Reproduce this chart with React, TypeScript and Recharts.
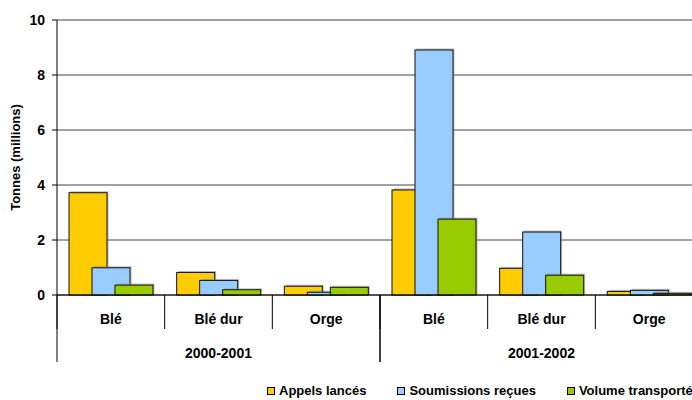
import React from 'react';
import { BarChart, Bar, XAxis, YAxis, CartesianGrid, Legend, Label } from 'recharts';

const crops = ['Blé', 'Blé dur', 'Orge', 'Blé', 'Blé dur', 'Orge'];
const years = ['2000-2001', '2000-2001', '2000-2001', '2001-2002', '2001-2002', '2001-2002'];
const appels = [3.72, 0.82, 0.32, 3.82, 0.97, 0.13];
const soumissions = [0.99, 0.53, 0.1, 8.91, 2.29, 0.17];
const volume = [0.36, 0.19, 0.28, 2.76, 0.72, 0.06];
const yTicks = [0, 2, 4, 6, 8, 10];

const seriesNames = ['Appels lancés', 'Soumissions reçues', 'Volume transporté'];
const colors = ['#FFCC00', '#99CCFF', '#99CC00'];

const data = crops.map((c, i) => ({
  key: `${years[i]}-${c}`,
  crop: c,
  year: years[i],
  appels: appels[i],
  soumissions: soumissions[i],
  volume: volume[i],
}));

const CHART_W = 720;
const CHART_H = 400;
const Y_W = 57;
const RIGHT = 17;
const PLOT_W = CHART_W - Y_W - RIGHT;
const BW = PLOT_W / crops.length;
const FONT = '"Liberation Sans", Arial, sans-serif';

const ShadowBar = (props: any) => {
  const { x, y, width, height, fill } = props;
  if (height == null || height <= 0) return null;
  return (
    <g>
      <rect x={x + 1.5} y={y - 1.5} width={width} height={height + 1.5} fill="#888" opacity={0.55} />
      <rect x={x} y={y} width={width} height={height} fill={fill} stroke="#111" strokeWidth={1} />
    </g>
  );
};

const CropTick = (props: any) => {
  const { x, y, payload } = props;
  const left = x - BW / 2;
  return (
    <g>
      <line x1={left} y1={y} x2={left} y2={y + 34} stroke="#000" strokeWidth={1} />
      <text x={x} y={y + 29} textAnchor="middle" fontFamily={FONT} fontWeight="bold" fontSize={14} fill="#000">
        {payload.value}
      </text>
    </g>
  );
};

const YearTick = (props: any) => {
  const { x, y, payload } = props;
  const half = (BW * 3) / 2;
  return (
    <g>
      <line x1={x - half} y1={y - 35} x2={x - half} y2={y + 32} stroke="#000" strokeWidth={1} />
      <line x1={x + half} y1={y - 35} x2={x + half} y2={y + 32} stroke="#000" strokeWidth={1} />
      <text x={x} y={y + 28} textAnchor="middle" fontFamily={FONT} fontWeight="bold" fontSize={14} fill="#000">
        {payload.value}
      </text>
    </g>
  );
};

const renderLegend = () => (
  <div style={{ position: 'relative', height: 35, width: CHART_W }}>
    <div
      style={{
        position: 'absolute',
        left: 267,
        top: 18,
        display: 'flex',
        alignItems: 'center',
        fontFamily: FONT,
        fontWeight: 'bold',
        fontSize: 13,
        lineHeight: '15px',
        whiteSpace: 'nowrap',
      }}
    >
      {seriesNames.map((n, i) => (
        <div key={n} style={{ display: 'flex', alignItems: 'center', marginRight: i < 2 ? 31 : 0 }}>
          <div
            style={{
              width: 6,
              height: 6,
              background: colors[i],
              border: '1px solid #000',
              marginRight: 4,
            }}
          />
          <span>{n}</span>
        </div>
      ))}
    </div>
  </div>
);

export default function App() {
  return (
    <div style={{ position: 'absolute', left: 0, top: 0, width: 692, height: 400, overflow: 'hidden', background: '#fff' }}>
      <BarChart
        width={CHART_W}
        height={CHART_H}
        data={data}
        margin={{ top: 20, right: RIGHT, left: 0, bottom: 0 }}
        barSize={38}
        barGap={-15}
      >
        <CartesianGrid vertical={false} stroke="#444" strokeWidth={1} />
        <YAxis
          width={Y_W}
          domain={[0, 10]}
          ticks={yTicks}
          interval={0}
          axisLine={{ stroke: '#000' }}
          tickLine={{ stroke: '#000' }}
          tickSize={5}
          tickMargin={7}
          tick={{ fontFamily: FONT, fontWeight: 'bold', fontSize: 14, fill: '#000' }}
        >
          <Label
            content={(p: any) => {
              const vb = p.viewBox || {};
              const cy = (vb.y || 20) + (vb.height || 275) / 2;
              return (
                <text
                  x={20}
                  y={cy}
                  transform={`rotate(-90, 20, ${cy})`}
                  textAnchor="middle"
                  fontFamily={FONT}
                  fontWeight="bold"
                  fontSize={13}
                  fill="#000"
                >
                  Tonnes (millions)
                </text>
              );
            }}
          />
        </YAxis>
        <XAxis
          dataKey="key"
          height={35}
          interval={0}
          axisLine={{ stroke: '#000' }}
          tickLine={false}
          tickSize={0}
          tickMargin={0}
          tick={(p: any) => <CropTick {...p} payload={{ ...p.payload, value: data[p.index]?.crop ?? p.payload.value }} />}
        />
        <XAxis
          xAxisId="year"
          dataKey="year"
          allowDuplicatedCategory={false}
          height={35}
          interval={0}
          axisLine={false}
          tickLine={false}
          tickSize={0}
          tickMargin={0}
          tick={<YearTick />}
        />
        <Legend verticalAlign="bottom" height={35} content={renderLegend} wrapperStyle={{ left: 0, width: CHART_W }} />
        <Bar dataKey="appels" name={seriesNames[0]} fill={colors[0]} shape={<ShadowBar />} isAnimationActive={false} />
        <Bar dataKey="soumissions" name={seriesNames[1]} fill={colors[1]} shape={<ShadowBar />} isAnimationActive={false} />
        <Bar dataKey="volume" name={seriesNames[2]} fill={colors[2]} shape={<ShadowBar />} isAnimationActive={false} />
      </BarChart>
    </div>
  );
}
